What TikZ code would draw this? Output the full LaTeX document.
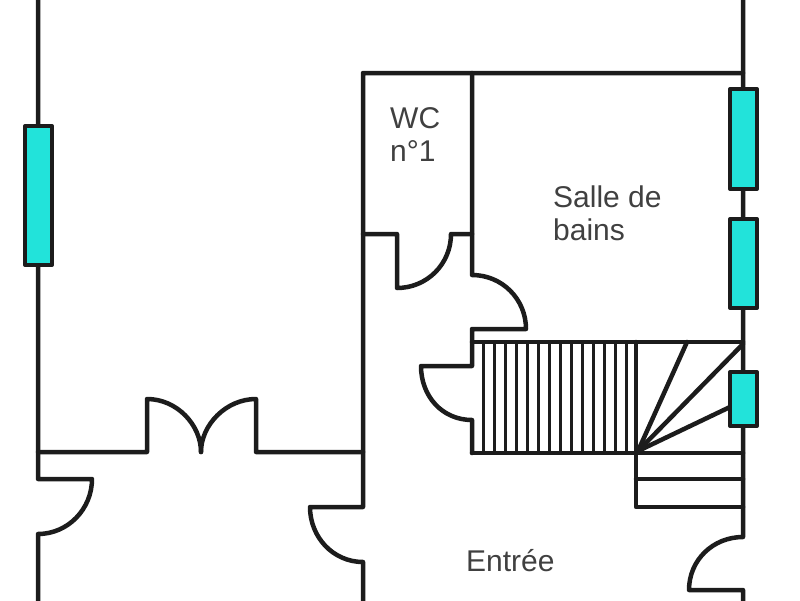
\documentclass[tikz,border=0pt]{standalone}
\usepackage{fontspec}
\setmainfont{Liberation Sans}
\usepackage{tikz}
\usetikzlibrary{positioning}
\definecolor{wallcol}{HTML}{1C1C1C}
\definecolor{glasscol}{HTML}{22E3DA}
\tikzstyle{wall}=[draw=wallcol,line width=4.5pt,line join=round,line cap=round]
\tikzstyle{tread}=[draw=wallcol,line width=3pt]
\tikzstyle{window}=[draw=wallcol,fill=glasscol,line width=4pt,line join=round]
\tikzstyle{roomlabel}=[text=black!75,inner sep=0pt,align=left,font=\fontsize{30}{33}\selectfont]

\begin{document}
\begin{tikzpicture}[x=1pt,y=-1pt]
\useasboundingbox (0,0) rectangle (800,600);
% outer walls
\draw [wall] (38,-5) -- (38,479) -- (92,479) .. controls (92,509) and (68,534) .. (38,534) -- (38,605);
\draw [wall] (743,-5) -- (743,537) .. controls (713,537) and (689,560) .. (689,590) -- (743,590) -- (743,605);
% hall wall and double door
\draw [wall] (38,452) -- (147,452) -- (147,399) .. controls (177,399) and (201,425) .. (201,452);
\draw [wall] (363,452) -- (256,452) -- (256,399) .. controls (226,399) and (201,425) .. (201,452);
\draw [wall] (743,73) -- (363,73) -- (363,507) -- (310,507) .. controls (310,537) and (333,562) .. (363,562) -- (363,605);
% WC
\draw [wall] (363,234) -- (397,234) -- (397,288) .. controls (427,288) and (451,264) .. (451,234) -- (472,234);
\draw [wall] (472,73) -- (472,275) .. controls (502,275) and (526,299) .. (526,329) -- (472,329) -- (472,366) -- (421,366)
  .. controls (421,396) and (442,420) .. (472,420) -- (472,453);
% stairs
\foreach \x in {483,494,...,626} {
  \draw [tread] (\x,342) -- (\x,453);
}
\draw [wall] (472,342) -- (743,342);
\draw [wall] (472,453) -- (743,453);
\draw [wall] (636,342) -- (636,507) -- (743,507);
\draw [wall] (636,479) -- (743,479);
\coordinate (fan) at (638,451);
\draw [wall] (fan) -- (687,342);
\draw [wall] (fan) -- (743,344);
\draw [wall] (fan) -- (730,407);
% windows
\draw [window] (25,126) rectangle (52,265);
\draw [window] (730,89) rectangle (757,189);
\draw [window] (730,219) rectangle (757,308);
\draw [window] (730,372) rectangle (757,426);
% rooms
\node [roomlabel,anchor=base west] (wc) at (390,161) {WC\\n°1};
\node [roomlabel,anchor=base west] (bath) at (553,240) {Salle de\\bains};
\node [roomlabel,anchor=base west] (entry) at (466,571) {Entrée};
\end{tikzpicture}
\end{document}
